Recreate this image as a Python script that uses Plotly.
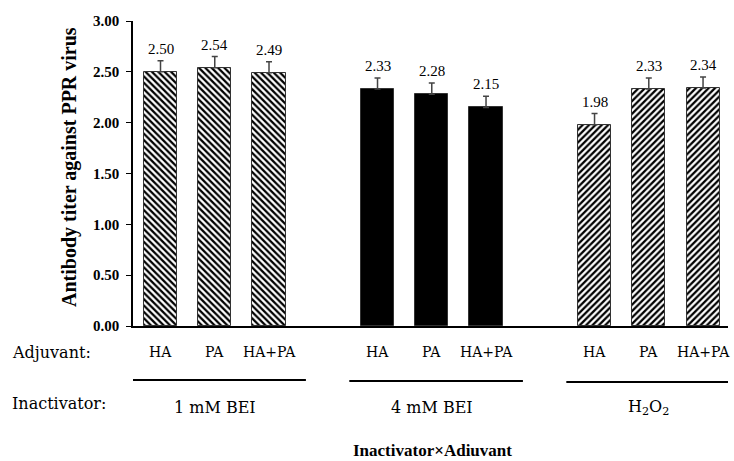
import plotly.graph_objects as go

# ---- data ----
inactivators = ["1 mM BEI", "4 mM BEI", "H<sub>2</sub>O<sub>2</sub>"]
adjuvants = ["HA", "PA", "HA+PA"]
titer_bei1 = [2.50, 2.54, 2.49]
titer_bei4 = [2.33, 2.28, 2.15]
titer_h2o2 = [1.98, 2.33, 2.34]
err_bei1 = [0.11, 0.11, 0.11]
err_bei4 = [0.11, 0.11, 0.11]
err_h2o2 = [0.11, 0.11, 0.11]
y_ticks = [0.0, 0.5, 1.0, 1.5, 2.0, 2.5, 3.0]
y_title = "Antibody titer against PPR virus"
x_title = "Inactivator×Adiuvant"

series = [titer_bei1, titer_bei4, titer_h2o2]
errors = [err_bei1, err_bei4, err_h2o2]
patterns = ["\\", "", "/"]

W, H = 734, 461
ML, MR, MT, MB = 133, 6, 21, 135
PW, PH = W - ML - MR, H - MT - MB

def px_to_paper_x(px):
    return (px - ML) / PW

def px_to_paper_y(py):
    return (H - MB - py) / PH

fig = go.Figure()
serif = "Liberation Serif"
wide = "DejaVu Serif"

annotations = []
shapes = []
for g, (vals, errs, pat) in enumerate(zip(series, errors, patterns)):
    xs = [g * 4 + i for i in range(len(vals))]
    fig.add_trace(go.Bar(
        x=xs, y=vals, width=0.61,
        marker=dict(color="black" if pat == "" else "white",
                    line=dict(color="#333333", width=1),
                    pattern=dict(shape=pat, fgcolor="black", bgcolor="white",
                                 fgopacity=1, size=4.5, solidity=0.5)),
        error_y=dict(type="data", symmetric=False, array=errs,
                     arrayminus=[0] * len(errs), color="#444444",
                     thickness=1.5, width=3),
        showlegend=False, hoverinfo="skip"))
    for x, v, e, lab in zip(xs, vals, errs, adjuvants):
        annotations.append(dict(x=x, y=v + e, xref="x", yref="y", text=f"{v:.2f}",
                                showarrow=False, yanchor="bottom", yshift=2,
                                font=dict(family=serif, size=15, color="black")))
        annotations.append(dict(x=x, y=px_to_paper_y(352), xref="x", yref="paper",
                                text=lab, showarrow=False, yanchor="middle",
                                font=dict(family=wide, size=14, color="black")))
    mid = xs[1]
    annotations.append(dict(x=mid, y=px_to_paper_y(407), xref="x", yref="paper",
                            text=inactivators[g], showarrow=False, yanchor="middle",
                            font=dict(family=wide, size=16, color="black")))
    shapes.append(dict(type="line", xref="x", yref="paper",
                       x0=mid + 0.08 - 1.6, x1=mid + 0.08 + 1.6,
                       y0=px_to_paper_y(380 + g), y1=px_to_paper_y(380 + g),
                       line=dict(color="black", width=2)))

annotations += [
    dict(x=px_to_paper_x(10), y=px_to_paper_y(352), xref="paper", yref="paper",
         text="Adjuvant:", showarrow=False, xanchor="left", yanchor="middle",
         font=dict(family=wide, size=16, color="black")),
    dict(x=px_to_paper_x(10), y=px_to_paper_y(403), xref="paper", yref="paper",
         text="Inactivator:", showarrow=False, xanchor="left", yanchor="middle",
         font=dict(family=wide, size=16, color="black")),
    dict(x=px_to_paper_x(432), y=px_to_paper_y(450), xref="paper", yref="paper",
         text=f"<b>{x_title}</b>", showarrow=False, yanchor="middle",
         font=dict(family=serif, size=17, color="black")),
    dict(x=px_to_paper_x(69), y=px_to_paper_y(167), xref="paper", yref="paper",
         text=f"<b>{y_title}</b>", showarrow=False, textangle=-90,
         xanchor="center", yanchor="middle",
         font=dict(family=serif, size=20, color="black")),
]

fig.update_layout(
    width=W, height=H,
    margin=dict(l=ML, r=MR, t=MT, b=MB),
    plot_bgcolor="white", paper_bgcolor="white",
    bargap=0,
    annotations=annotations, shapes=shapes,
    xaxis=dict(range=[-0.507, 10.46], showticklabels=False, ticks="",
               showgrid=False, zeroline=False, showline=True,
               linecolor="black", linewidth=2, fixedrange=True),
    yaxis=dict(range=[0, 3.0], tickvals=y_ticks,
               ticktext=[f"<b>{t:.2f}</b>" for t in y_ticks],
               ticks="outside", ticklen=5, tickcolor="black", tickwidth=1,
               ticklabelstandoff=4,
               tickfont=dict(family=serif, size=15, color="black"),
               showgrid=False, zeroline=False, showline=True,
               linecolor="black", linewidth=1.5, fixedrange=True),
)

fig.write_html("out.html", config={"displayModeBar": False},
               post_script="document.body.style.margin='0';document.body.style.overflow='hidden';")
